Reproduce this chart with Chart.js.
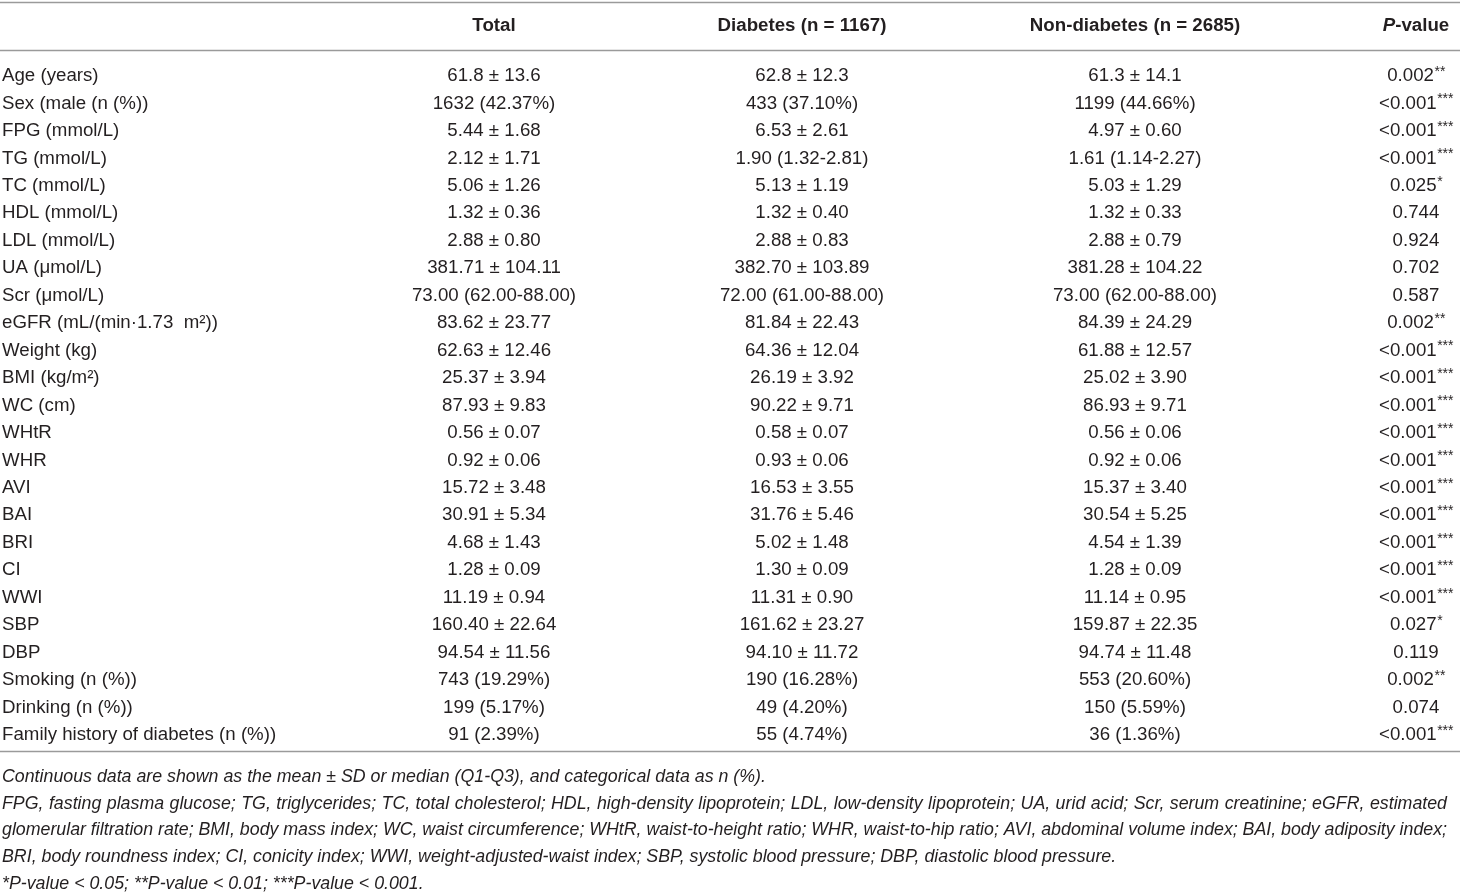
<!DOCTYPE html>
<html>
<head>
<meta charset="utf-8">
<script src="https://cdn.jsdelivr.net/npm/chart.js@4.4.1/dist/chart.umd.min.js"></script>
<style>
  html, body { margin: 0; padding: 0; background: #fff; }
  #wrap { width: 1460px; height: 892px; }
</style>
</head>
<body>
<div id="wrap"><canvas id="table"></canvas></div>
<script>
// table content
const columnHeaders = ["", "Total", "Diabetes (n = 1167)", "Non-diabetes (n = 2685)", "P-value"];

const rowLabels = [
  "Age (years)", "Sex (male (n (%))", "FPG (mmol/L)", "TG (mmol/L)", "TC (mmol/L)",
  "HDL (mmol/L)", "LDL (mmol/L)", "UA (\u03bcmol/L)", "Scr (\u03bcmol/L)", "eGFR (mL/(min\u00b71.73  m\u00b2))",
  "Weight (kg)", "BMI (kg/m\u00b2)", "WC (cm)", "WHtR", "WHR", "AVI", "BAI", "BRI", "CI", "WWI",
  "SBP", "DBP", "Smoking (n (%))", "Drinking (n (%))", "Family history of diabetes (n (%))"
];

const totalVals = [
  "61.8 \u00b1 13.6", "1632 (42.37%)", "5.44 \u00b1 1.68", "2.12 \u00b1 1.71", "5.06 \u00b1 1.26",
  "1.32 \u00b1 0.36", "2.88 \u00b1 0.80", "381.71 \u00b1 104.11", "73.00 (62.00-88.00)", "83.62 \u00b1 23.77",
  "62.63 \u00b1 12.46", "25.37 \u00b1 3.94", "87.93 \u00b1 9.83", "0.56 \u00b1 0.07", "0.92 \u00b1 0.06",
  "15.72 \u00b1 3.48", "30.91 \u00b1 5.34", "4.68 \u00b1 1.43", "1.28 \u00b1 0.09", "11.19 \u00b1 0.94",
  "160.40 \u00b1 22.64", "94.54 \u00b1 11.56", "743 (19.29%)", "199 (5.17%)", "91 (2.39%)"
];

const diabetesVals = [
  "62.8 \u00b1 12.3", "433 (37.10%)", "6.53 \u00b1 2.61", "1.90 (1.32-2.81)", "5.13 \u00b1 1.19",
  "1.32 \u00b1 0.40", "2.88 \u00b1 0.83", "382.70 \u00b1 103.89", "72.00 (61.00-88.00)", "81.84 \u00b1 22.43",
  "64.36 \u00b1 12.04", "26.19 \u00b1 3.92", "90.22 \u00b1 9.71", "0.58 \u00b1 0.07", "0.93 \u00b1 0.06",
  "16.53 \u00b1 3.55", "31.76 \u00b1 5.46", "5.02 \u00b1 1.48", "1.30 \u00b1 0.09", "11.31 \u00b1 0.90",
  "161.62 \u00b1 23.27", "94.10 \u00b1 11.72", "190 (16.28%)", "49 (4.20%)", "55 (4.74%)"
];

const nonDiabetesVals = [
  "61.3 \u00b1 14.1", "1199 (44.66%)", "4.97 \u00b1 0.60", "1.61 (1.14-2.27)", "5.03 \u00b1 1.29",
  "1.32 \u00b1 0.33", "2.88 \u00b1 0.79", "381.28 \u00b1 104.22", "73.00 (62.00-88.00)", "84.39 \u00b1 24.29",
  "61.88 \u00b1 12.57", "25.02 \u00b1 3.90", "86.93 \u00b1 9.71", "0.56 \u00b1 0.06", "0.92 \u00b1 0.06",
  "15.37 \u00b1 3.40", "30.54 \u00b1 5.25", "4.54 \u00b1 1.39", "1.28 \u00b1 0.09", "11.14 \u00b1 0.95",
  "159.87 \u00b1 22.35", "94.74 \u00b1 11.48", "553 (20.60%)", "150 (5.59%)", "36 (1.36%)"
];

const pValues = [
  "0.002**", "<0.001***", "<0.001***", "<0.001***", "0.025*",
  "0.744", "0.924", "0.702", "0.587", "0.002**",
  "<0.001***", "<0.001***", "<0.001***", "<0.001***", "<0.001***",
  "<0.001***", "<0.001***", "<0.001***", "<0.001***", "<0.001***",
  "0.027*", "0.119", "0.002**", "0.074", "<0.001***"
];

const footnotes = [
  "Continuous data are shown as the mean \u00b1 SD or median (Q1-Q3), and categorical data as n (%).",
  "FPG, fasting plasma glucose; TG, triglycerides; TC, total cholesterol; HDL, high-density lipoprotein; LDL, low-density lipoprotein; UA, urid acid; Scr, serum creatinine; eGFR, estimated",
  "glomerular filtration rate; BMI, body mass index; WC, waist circumference; WHtR, waist-to-height ratio; WHR, waist-to-hip ratio; AVI, abdominal volume index; BAI, body adiposity index;",
  "BRI, body roundness index; CI, conicity index; WWI, weight-adjusted-waist index; SBP, systolic blood pressure; DBP, diastolic blood pressure.",
  "*P-value < 0.05; **P-value < 0.01; ***P-value < 0.001."
];
const justifiedLines = [false, true, true, false, false];

// layout (x anchor of each column on the x scale, row slots on the y scale)
const colX = [2, 494, 802, 1135, 1416];
const headerRow = -1.82;
const ruleRows = [-2.7, -0.93, 24.6];
const footRows = [25.52, 26.5, 27.48, 28.46, 29.44];

const TEXT = "#231f20";
const FONT = "'Liberation Sans', Arial, Helvetica, sans-serif";
const SIZE = 18.7;
const STAR = 14;

const columns = [rowLabels, totalVals, diabetesVals, nonDiabetesVals, pValues];

const cellPlugin = {
  id: "cells",
  afterDatasetsDraw(chart) {
    const ctx = chart.ctx;
    const xs = chart.scales.x, ys = chart.scales.y;
    const area = chart.chartArea;
    ctx.save();

    // horizontal rules
    ctx.strokeStyle = "#9a9a9a";
    ctx.lineWidth = 1.6;
    ruleRows.forEach(r => {
      const y = Math.round(ys.getPixelForValue(r)) + 0.5;
      ctx.beginPath();
      ctx.moveTo(area.left, y);
      ctx.lineTo(area.right, y);
      ctx.stroke();
    });

    ctx.fillStyle = TEXT;
    ctx.textBaseline = "middle";

    // header
    const hy = ys.getPixelForValue(headerRow);
    columnHeaders.forEach((h, i) => {
      if (!h) return;
      const cx = xs.getPixelForValue(colX[i]);
      if (h === "P-value") {
        ctx.font = "italic bold " + SIZE + "px " + FONT;
        const w1 = ctx.measureText("P").width;
        ctx.font = "bold " + SIZE + "px " + FONT;
        const w2 = ctx.measureText("-value").width;
        let x = cx - (w1 + w2) / 2;
        ctx.textAlign = "left";
        ctx.font = "italic bold " + SIZE + "px " + FONT;
        ctx.fillText("P", x, hy);
        ctx.font = "bold " + SIZE + "px " + FONT;
        ctx.fillText("-value", x + w1, hy);
      } else {
        ctx.font = "bold " + SIZE + "px " + FONT;
        ctx.textAlign = "center";
        ctx.fillText(h, cx, hy);
      }
    });

    // body cells, positioned by the dataset points
    chart.data.datasets.forEach((ds, di) => {
      const meta = chart.getDatasetMeta(di);
      meta.data.forEach((pt, ri) => {
        const txt = columns[di][ri];
        if (di === 0) {
          ctx.font = SIZE + "px " + FONT;
          ctx.textAlign = "left";
          ctx.fillText(txt, pt.x, pt.y);
        } else if (di === 4) {
          const m = txt.match(/^(.*?)(\*+)$/);
          const main = m ? m[1] : txt, stars = m ? m[2] : "";
          ctx.font = SIZE + "px " + FONT;
          const w1 = ctx.measureText(main).width;
          ctx.font = STAR + "px " + FONT;
          const w2 = ctx.measureText(stars).width;
          const x = pt.x - (w1 + w2) / 2;
          ctx.textAlign = "left";
          ctx.font = SIZE + "px " + FONT;
          ctx.fillText(main, x, pt.y);
          ctx.font = STAR + "px " + FONT;
          ctx.fillText(stars, x + w1 + 0.5, pt.y - 4);
        } else {
          ctx.font = SIZE + "px " + FONT;
          ctx.textAlign = "center";
          ctx.fillText(txt, pt.x, pt.y);
        }
      });
    });

    // footnotes
    ctx.font = "italic 17.8px " + FONT;
    ctx.textAlign = "left";
    const x0 = xs.getPixelForValue(2), x1 = xs.getPixelForValue(1447);
    footnotes.forEach((line, i) => {
      const y = ys.getPixelForValue(footRows[i]);
      if (justifiedLines[i]) {
        const words = line.split(" ");
        const widths = words.map(w => ctx.measureText(w).width);
        const total = widths.reduce((a, b) => a + b, 0);
        const gap = (x1 - x0 - total) / (words.length - 1);
        let x = x0;
        words.forEach((w, k) => { ctx.fillText(w, x, y); x += widths[k] + gap; });
      } else {
        ctx.fillText(line, x0, y);
      }
    });

    ctx.restore();
  }
};

new Chart(document.getElementById("table"), {
  type: "scatter",
  data: {
    datasets: columns.map((col, ci) => ({
      label: ci === 0 ? "Variable" : columnHeaders[ci],
      data: col.map((_, ri) => ({ x: colX[ci], y: ri })),
      pointRadius: 0,
      pointHoverRadius: 0
    }))
  },
  options: {
    responsive: true,
    maintainAspectRatio: false,
    animation: false,
    layout: { padding: 0 },
    plugins: { legend: { display: false }, tooltip: { enabled: false } },
    scales: {
      x: { type: "linear", display: false, min: 0, max: 1460 },
      y: { type: "linear", display: false, reverse: true, min: -2.768, max: 29.718 }
    }
  },
  plugins: [cellPlugin]
});
</script>
</body>
</html>
